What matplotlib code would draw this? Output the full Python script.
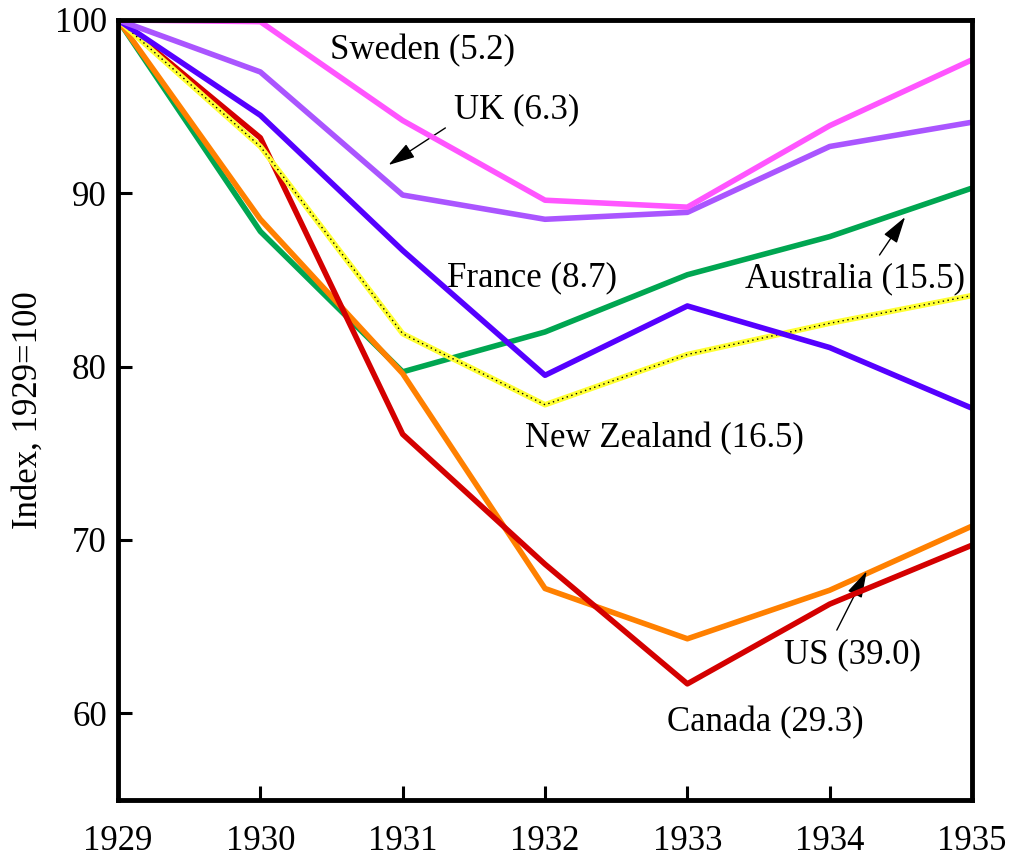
import matplotlib
matplotlib.use("Agg")
import matplotlib.pyplot as plt

years = [1929, 1930, 1931, 1932, 1933, 1934, 1935]
sweden = [100, 99.9, 94.2, 89.6, 89.2, 93.9, 97.7]
uk = [100, 97.0, 89.9, 88.5, 88.9, 92.7, 94.1]
france = [100, 94.5, 86.7, 79.5, 83.5, 81.1, 77.6]
australia = [100, 87.8, 79.7, 82.0, 85.3, 87.5, 90.3]
new_zealand = [100, 92.7, 81.9, 77.8, 80.7, 82.5, 84.1]
us = [100, 88.5, 79.6, 67.2, 64.3, 67.1, 70.8]
canada = [100, 93.2, 76.1, 68.6, 61.7, 66.3, 69.7]

plt.rcParams['font.family'] = ['Liberation Serif', 'DejaVu Serif']
fig = plt.figure(figsize=(10.12, 8.67), dpi=100)
ax = fig.add_axes([0.1166, 0.0773, 0.9605 - 0.1166, 0.977 - 0.0773])

lw = 4.0
ax.plot(years, australia, color='#00a651', lw=lw, zorder=2)
ax.plot(years, us, color='#ff8000', lw=lw, zorder=3)
ax.plot(years, canada, color='#d40000', lw=lw, zorder=4)
ax.plot(years, new_zealand, color='#ffff33', lw=lw, zorder=5)
ax.plot(years, new_zealand, color='black', lw=1.0, ls=(0, (1, 2.5)), zorder=5.5)
ax.plot(years, france, color='#5500ff', lw=lw, zorder=6)
ax.plot(years, uk, color='#aa55ff', lw=lw, zorder=7)
ax.plot(years, sweden, color='#ff55ff', lw=lw, zorder=8)

ax.set_xlim(1929, 1935)
ax.set_ylim(55, 100)
ax.set_xticks(years)
ax.set_yticks([60, 70, 80, 90, 100])
ax.tick_params(direction='in', length=10, width=2.2, labelsize=25, pad=18)
ax.tick_params(axis='y', pad=8)
for s in ax.spines.values():
    s.set_linewidth(3.5)
    s.set_zorder(10)
ax.set_ylabel('Index, 1929=100', fontsize=25, labelpad=7)

fs = 25
dy = 0.25
arrow = dict(arrowstyle='-|>,head_length=0.75,head_width=0.22', color='black', lw=1,
             mutation_scale=22, shrinkA=0, shrinkB=0)
ax.text(1931.14, 98.5 - dy, 'Sweden (5.2)', fontsize=fs, ha='center', va='center')
ax.text(1931.80, 95.04 - dy, 'UK (6.3)', fontsize=fs, ha='center', va='center')
ax.annotate('', xy=(1930.90, 91.63), xytext=(1931.30, 93.77), arrowprops=arrow)
ax.text(1931.91, 85.4 - dy, 'France (8.7)', fontsize=fs, ha='center', va='center')
ax.text(1934.18, 85.3 - dy, 'Australia (15.5)', fontsize=fs, ha='center', va='center')
ax.annotate('', xy=(1934.53, 88.63), xytext=(1934.35, 86.44), arrowprops=arrow)
ax.text(1932.84, 76.1 - dy, 'New Zealand (16.5)', fontsize=fs, ha='center', va='center')
ax.text(1934.16, 63.65 - dy, 'US (39.0)', fontsize=fs, ha='center', va='center')
ax.annotate('', xy=(1934.26, 68.2), xytext=(1934.05, 64.8), arrowprops=arrow)
ax.text(1933.55, 59.7 - dy, 'Canada (29.3)', fontsize=fs, ha='center', va='center')

fig.savefig('out.png', dpi=100)
